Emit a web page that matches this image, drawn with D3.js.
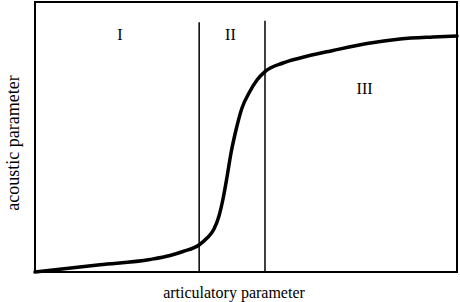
<!DOCTYPE html>
<html>
<head>
<meta charset="utf-8">
<script src="https://cdn.jsdelivr.net/npm/d3@7"></script>
<style>
  html, body { margin: 0; padding: 0; background: #fff; }
  svg { display: block; }
  text { font-family: "Liberation Serif", "Times New Roman", serif; fill: #000; }
</style>
</head>
<body>
<svg id="chart" width="460" height="302"></svg>
<script>
// ---- data (domain units 0..100 on both axes) ----
const articulatory = [0, 15.4, 27.25, 32.0, 35.07, 38.86, 40.76, 42.42, 43.6, 44.55, 45.5, 46.45, 47.63, 49.05, 50.71, 52.61, 54.5, 58.77, 62.8, 70.62, 78.67, 86.49, 94.31, 100];
const acoustic     = [0, 2.67, 4.63, 6.11, 7.59, 10.0, 12.59, 15.93, 20.74, 27.04, 35.19, 44.07, 52.59, 60.74, 66.3, 71.11, 74.19, 77.41, 79.26, 82.04, 84.63, 86.3, 87.04, 87.41];
const boundaries = [38.9, 54.5];
const boundaryTops = [92.5, 93.1];
const regionLabels = ["I", "II", "III"];
const regionX = [20.1, 46.3, 78.1];
const regionY = [85.9, 85.9, 65.9];
const xTitle = "articulatory parameter";
const yTitle = "acoustic parameter";

const svg = d3.select("#chart");
const margin = { left: 35, top: 2, right: 3, bottom: 30 };
const W = 460, H = 302;
const x = d3.scaleLinear().domain([0, 100]).range([margin.left, W - margin.right]);
const y = d3.scaleLinear().domain([0, 100]).range([H - margin.bottom, margin.top]);

// boundary lines
svg.selectAll("line.bound").data(boundaries).join("line")
  .attr("class", "bound")
  .attr("x1", d => x(d)).attr("x2", d => x(d))
  .attr("y1", (d, i) => y(boundaryTops[i])).attr("y2", y(0))
  .attr("stroke", "#000").attr("stroke-width", 1.5);

// curve
const pts = articulatory.map((v, i) => [v, acoustic[i]]);
svg.append("path")
  .datum(pts)
  .attr("fill", "none")
  .attr("stroke", "#000")
  .attr("stroke-width", 3.5)
  .attr("stroke-linecap", "round")
  .attr("d", d3.line().x(d => x(d[0])).y(d => y(d[1])).curve(d3.curveMonotoneX));

// frame
svg.append("rect")
  .attr("x", x(0)).attr("y", y(100))
  .attr("width", x(100) - x(0)).attr("height", y(0) - y(100))
  .attr("fill", "none").attr("stroke", "#000").attr("stroke-width", 2);

// region labels
svg.selectAll("text.region").data(regionLabels).join("text")
  .attr("class", "region")
  .attr("x", (d, i) => x(regionX[i]))
  .attr("y", (d, i) => y(regionY[i]))
  .attr("text-anchor", "middle")
  .attr("font-size", 16)
  .text(d => d);

// axis titles
svg.append("text")
  .attr("x", 234).attr("y", 298)
  .attr("text-anchor", "middle")
  .attr("font-size", 16)
  .text(xTitle);

svg.append("text")
  .attr("transform", "translate(19,143) rotate(-90)")
  .attr("text-anchor", "middle")
  .attr("font-size", 18)
  .text(yTitle);
</script>
</body>
</html>
